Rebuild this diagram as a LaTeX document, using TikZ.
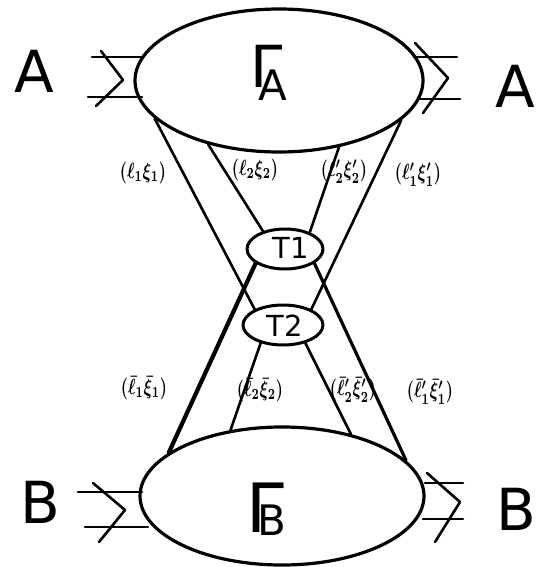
\documentclass[tikz,border=0pt]{standalone}
\usepackage{fontspec}
\setsansfont{DejaVu Sans}
\usetikzlibrary{shapes.geometric}
\begin{document}
\begin{tikzpicture}[x=1pt,y=-1pt,
  line width=2.6pt, line cap=round, line join=round,
  oval/.style={ellipse, draw, line width=3.2pt, inner sep=0pt},
  lbl/.style={font=\boldmath, xscale=1.6, yscale=2.2, inner sep=0pt},
  big/.style={font=\sffamily\fontsize{58}{58}\selectfont, inner sep=0pt},
  sub/.style={font=\sffamily\fontsize{42}{42}\selectfont, inner sep=0pt},
  tnode/.style={font=\sffamily\fontsize{29}{29}\selectfont, inner sep=0pt},
  heavy/.style={line width=4.2pt}]
\useasboundingbox (0,0) rectangle (539,567);
% ellipses
\node[oval, minimum width=288pt, minimum height=143pt] (GA) at (279,80.5) {};
\node[oval, minimum width=284pt, minimum height=138pt] (GB) at (282,496) {};
\node[oval, minimum width=76pt, minimum height=40pt, line width=3pt] (T1) at (285,249) {};
\node[oval, minimum width=80pt, minimum height=40pt, line width=3pt] (T2) at (283,325) {};
% labels inside
\node[big] (gA) at (267,66) {Γ};
\node[sub] (sA) at (273,85) {A};
\node[big, font=\sffamily\fontsize{68}{68}\selectfont] (gB) at (265,508) {Γ};
\node[sub] (sB) at (272,520) {B};
\node[tnode] (t1) at (291,248) {T1};
\node[tnode] (t2) at (285,326) {T2};
% side letters
\node[big] (Al) at (34,71) {A};
\node[big] (Ar) at (515,86) {A};
\node[big] (Bl) at (40,502) {B};
\node[big] (Br) at (516,509) {B};
% side legs
\draw (92,57) -- (142,57);
\draw (88,97) -- (142,97);
\draw (101,51) -- (123,80) -- (96,106);
\draw (414,57) -- (457,57);
\draw (418,99) -- (460,99);
\draw (415,43) -- (448,78) -- (423,113);
\draw (78,492) -- (142,492);
\draw (85,527) -- (148,527);
\draw (93,483) -- (125,510) -- (99,542);
\draw (425,483) -- (463,483);
\draw (423,519) -- (463,519);
\draw (427,473) -- (460,502) -- (435,542);
% connectors
\draw (GA.197) -- (T2.151);
\draw (GA.222.5) -- (T1.141);
\draw (GA.312.5) -- (T1.34);
\draw (GA.342.4) -- (T2.29);
\draw[heavy] (T1.206) -- (GB.159.4);
\draw[line width=3.2pt] (T1.334) -- (GB.16.3);
\draw (T2.219) -- (GB.128);
\draw (T2.321) -- (GB.42.4);
% edge labels
\node[lbl] (l1) at (143,173) {$(\ell_1\xi_1)$};
\node[lbl] (l2) at (255,170) {$(\ell_2\xi_2)$};
\node[lbl] (l3) at (344,172) {$(\ell'_2\xi'_2)$};
\node[lbl] (l4) at (418,175) {$(\ell'_1\xi'_1)$};
\node[lbl] (b1) at (144,388) {$(\bar\ell_1\bar\xi_1)$};
\node[lbl] (b2) at (260,390) {$(\bar\ell_2\bar\xi_2)$};
\node[lbl] (b3) at (353,390) {$(\bar\ell'_2\bar\xi'_2)$};
\node[lbl] (b4) at (430,392) {$(\bar\ell'_1\bar\xi'_1)$};
\end{tikzpicture}
\end{document}
